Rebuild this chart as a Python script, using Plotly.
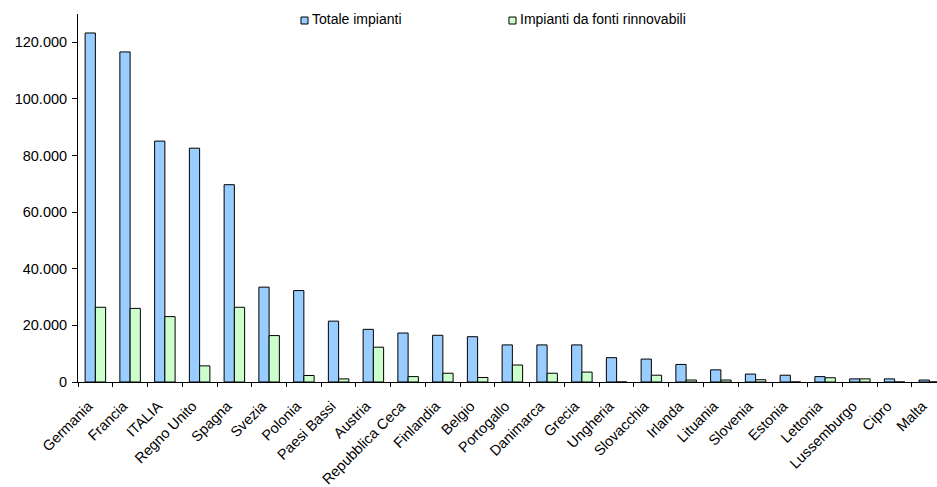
import plotly.graph_objects as go

# Numero di impianti per paese: totale e da fonti rinnovabili
paesi = ["Germania", "Francia", "ITALIA", "Regno Unito", "Spagna", "Svezia",
         "Polonia", "Paesi Bassi", "Austria", "Repubblica Ceca", "Finlandia",
         "Belgio", "Portogallo", "Danimarca", "Grecia", "Ungheria", "Slovacchia",
         "Irlanda", "Lituania", "Slovenia", "Estonia", "Lettonia", "Lussemburgo",
         "Cipro", "Malta"]
totale_impianti = [123300, 116600, 85100, 82600, 69700, 33500, 32300, 21500,
                   18600, 17300, 16500, 16000, 13100, 13100, 13100, 8600, 8100,
                   6200, 4300, 2800, 2400, 1900, 1100, 1100, 700]
impianti_rinnovabili = [26400, 26000, 23100, 5700, 26400, 16400, 2300, 1100,
                        12300, 1900, 3100, 1600, 6000, 3100, 3500, 0, 2400,
                        700, 700, 800, 0, 1500, 1100, 0, 0]
nomi_serie = ["Totale impianti", "Impianti da fonti rinnovabili"]
colori_serie = ["#99CCFF", "#CCFFCC"]

FONT = "Liberation Sans, Arial, sans-serif"

fig = go.Figure()
for nome, valori, colore in zip(nomi_serie, [totale_impianti, impianti_rinnovabili], colori_serie):
    fig.add_trace(go.Bar(
        x=paesi, y=valori, name=nome,
        marker=dict(color=colore, line=dict(color="#000000", width=1)),
        showlegend=False,
    ))

# Legenda disegnata in alto: quadratino colorato + testo
legenda_x = [(0.2596, 0.2678, 0.2700), (0.5017, 0.5099, 0.5121)]
for (x0, x1, xt), nome, colore in zip(legenda_x, nomi_serie, colori_serie):
    fig.add_shape(type="rect", xref="paper", yref="paper",
                  x0=x0, x1=x1, y0=0.9728, y1=0.9918,
                  fillcolor=colore, line=dict(color="#000000", width=1))
    fig.add_annotation(xref="paper", yref="paper", x=xt, y=0.9865,
                       xanchor="left", yanchor="middle", showarrow=False,
                       text=nome, font=dict(family=FONT, size=14, color="#000000"))

fig.update_layout(
    width=937, height=487,
    margin=dict(l=78, r=0, t=14, b=105),
    paper_bgcolor="white", plot_bgcolor="white",
    barmode="group", bargap=0.41, bargroupgap=0,
    separators=",.",
    font=dict(family=FONT, size=14.5, color="#000000"),
)
fig.update_xaxes(
    type="category", range=[-0.5, 24.22],
    showline=True, linecolor="#000000", linewidth=1,
    ticks="outside", tickson="boundaries", ticklen=4, tickcolor="#000000",
    tickangle=-45, showgrid=False, zeroline=False,
    ticklabelstandoff=9, ticklabelshift=-7,
    tickfont=dict(family=FONT, size=14.5, color="#000000"),
)
fig.update_yaxes(
    range=[0, 130000], dtick=20000, tick0=0, tickformat=",d",
    showline=True, linecolor="#000000", linewidth=1,
    ticks="outside", ticklen=5, tickcolor="#000000",
    ticklabelstandoff=2,
    showgrid=False, zeroline=False,
    tickfont=dict(family=FONT, size=14.5, color="#000000"),
)

fig.write_html("out.html")
